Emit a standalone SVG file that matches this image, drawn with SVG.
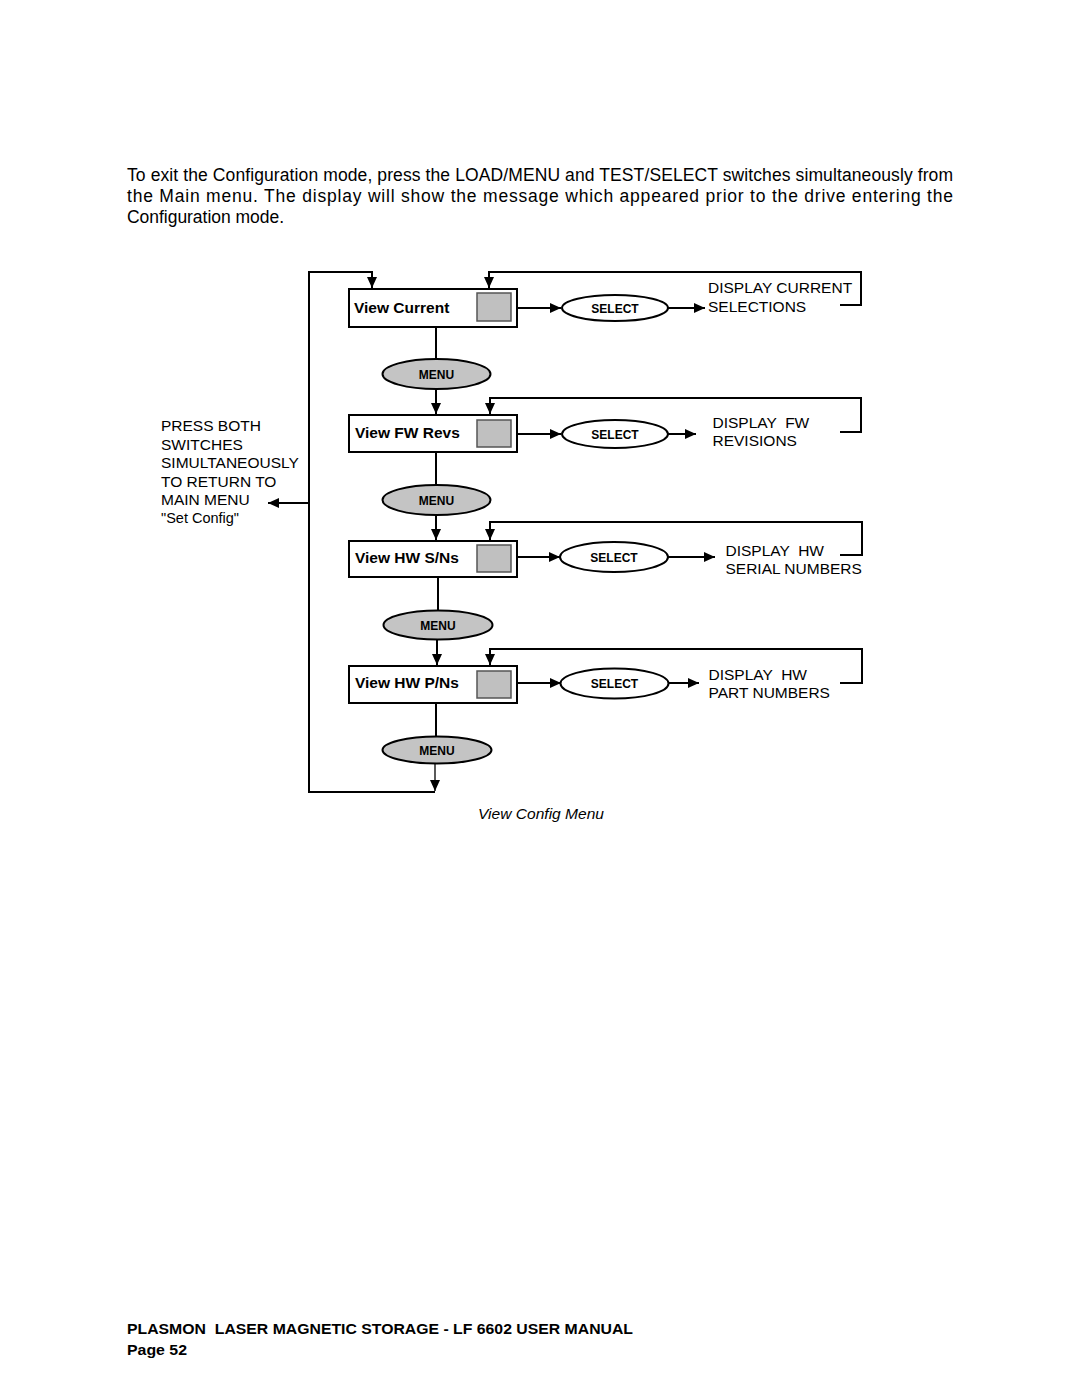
<svg xmlns="http://www.w3.org/2000/svg" width="1080" height="1397" viewBox="0 0 1080 1397">
<style>
text{font-family:"Liberation Sans",Arial,sans-serif;fill:#000}
.para{font-size:17.5px}
.lbl{font-size:15.5px}
.bx{fill:#fff;stroke:#000;stroke-width:2}
.sq{fill:#c0c0c0;stroke:#555;stroke-width:1.5}
.menu{fill:#c4c4c4;stroke:#000;stroke-width:2}
.sel{fill:#fff;stroke:#000;stroke-width:2}
.bt{font-size:15.5px;font-weight:bold}
.et{font-size:12px;font-weight:bold;text-anchor:middle}
.ln{fill:none;stroke:#000;stroke-width:2}
.ft{font-size:14.5px;font-weight:bold}
</style>
<defs>
<marker id="ah" markerUnits="userSpaceOnUse" markerWidth="12" markerHeight="10" refX="11" refY="5" orient="auto">
<path d="M0,0 L11,5 L0,10 z" fill="#000"/>
</marker>
</defs>
<rect width="1080" height="1397" fill="#fff"/>
<text class="para" x="127" y="181" textLength="826" lengthAdjust="spacing">To exit the Configuration mode, press the LOAD/MENU and TEST/SELECT switches simultaneously from</text>
<text class="para" x="127" y="202" textLength="826" lengthAdjust="spacing">the Main menu. The display will show the message which appeared prior to the drive entering the</text>
<text class="para" x="127" y="223" textLength="157" lengthAdjust="spacing">Configuration mode.</text>

<g id="connectors">
<polyline class="ln" points="435,792 309,792 309,272 372,272 372,288" marker-end="url(#ah)"/>
<line class="ln" x1="309" y1="503" x2="268" y2="503" marker-end="url(#ah)"/>
<polyline class="ln" points="840,305 861,305 861,272 489,272 489,288" marker-end="url(#ah)"/>
<polyline class="ln" points="840,432 861,432 861,398 490,398 490,414" marker-end="url(#ah)"/>
<polyline class="ln" points="840,555 862,555 862,522 490,522 490,540" marker-end="url(#ah)"/>
<polyline class="ln" points="840,683 862,683 862,649 490,649 490,665" marker-end="url(#ah)"/>
<line class="ln" x1="436" y1="327" x2="436" y2="359"/>
<line class="ln" x1="436" y1="389" x2="436" y2="414" marker-end="url(#ah)"/>
<line class="ln" x1="436" y1="452" x2="436" y2="485"/>
<line class="ln" x1="436" y1="515" x2="436" y2="540" marker-end="url(#ah)"/>
<line class="ln" x1="438" y1="577" x2="438" y2="610"/>
<line class="ln" x1="437" y1="639" x2="437" y2="665" marker-end="url(#ah)"/>
<line class="ln" x1="436" y1="703" x2="436" y2="737"/>
<line x1="435" y1="763" x2="435" y2="791" stroke="#000" stroke-width="1.3" marker-end="url(#ah)"/>
<line class="ln" x1="517" y1="308" x2="561" y2="308" marker-end="url(#ah)"/>
<line class="ln" x1="668" y1="308" x2="705" y2="308" marker-end="url(#ah)"/>
<line class="ln" x1="517" y1="434" x2="561" y2="434" marker-end="url(#ah)"/>
<line class="ln" x1="668" y1="434" x2="696" y2="434" marker-end="url(#ah)"/>
<line class="ln" x1="517" y1="557" x2="560" y2="557" marker-end="url(#ah)"/>
<line class="ln" x1="668" y1="557" x2="715" y2="557" marker-end="url(#ah)"/>
<line class="ln" x1="517" y1="683" x2="561" y2="683" marker-end="url(#ah)"/>
<line class="ln" x1="668" y1="683" x2="699" y2="683" marker-end="url(#ah)"/>
</g>

<g id="node-view-current">
<rect class="bx" x="349" y="289" width="168" height="38"/>
<rect class="sq" x="477" y="293" width="34" height="28"/>
<text class="bt" x="354" y="313">View Current</text>
</g>
<g id="node-menu-1">
<ellipse class="menu" cx="436.5" cy="374" rx="54" ry="15"/>
<text class="et" x="436.5" y="378.5">MENU</text>
</g>
<g id="node-select-1">
<ellipse class="sel" cx="615" cy="308" rx="53" ry="13"/>
<text class="et" x="615" y="312.5">SELECT</text>
</g>
<g id="node-display-current">
<text class="lbl" x="708" y="293">DISPLAY CURRENT</text>
<text class="lbl" x="708" y="312">SELECTIONS</text>
</g>

<g id="node-view-fw-revs">
<rect class="bx" x="349" y="415" width="168" height="37"/>
<rect class="sq" x="477" y="420" width="34" height="27"/>
<text class="bt" x="355" y="438">View FW Revs</text>
</g>
<g id="node-menu-2">
<ellipse class="menu" cx="436.5" cy="500" rx="54" ry="15"/>
<text class="et" x="436.5" y="504.5">MENU</text>
</g>
<g id="node-select-2">
<ellipse class="sel" cx="615" cy="434" rx="53" ry="14"/>
<text class="et" x="615" y="438.5">SELECT</text>
</g>
<g id="node-display-fw">
<text class="lbl" x="712.5" y="428" xml:space="preserve">DISPLAY  FW</text>
<text class="lbl" x="712.5" y="446">REVISIONS</text>
</g>

<g id="node-view-hw-sns">
<rect class="bx" x="349" y="541" width="168" height="36"/>
<rect class="sq" x="477" y="545" width="34" height="27"/>
<text class="bt" x="355" y="563">View HW S/Ns</text>
</g>
<g id="node-menu-3">
<ellipse class="menu" cx="438" cy="625" rx="54.5" ry="14.5"/>
<text class="et" x="438" y="629.5">MENU</text>
</g>
<g id="node-select-3">
<ellipse class="sel" cx="614" cy="557" rx="54" ry="15"/>
<text class="et" x="614" y="561.5">SELECT</text>
</g>
<g id="node-display-hw-serial">
<text class="lbl" x="725.5" y="556" xml:space="preserve">DISPLAY  HW</text>
<text class="lbl" x="725.5" y="574">SERIAL NUMBERS</text>
</g>

<g id="node-view-hw-pns">
<rect class="bx" x="349" y="666" width="168" height="37"/>
<rect class="sq" x="477" y="671" width="34" height="27"/>
<text class="bt" x="355" y="688">View HW P/Ns</text>
</g>
<g id="node-menu-4">
<ellipse class="menu" cx="437" cy="750" rx="54.5" ry="13.5"/>
<text class="et" x="437" y="754.5">MENU</text>
</g>
<g id="node-select-4">
<ellipse class="sel" cx="614.5" cy="683.5" rx="54" ry="15"/>
<text class="et" x="614.5" y="688">SELECT</text>
</g>
<g id="node-display-hw-part">
<text class="lbl" x="708.5" y="680" xml:space="preserve">DISPLAY  HW</text>
<text class="lbl" x="708.5" y="698">PART NUMBERS</text>
</g>

<g id="node-press-both">
<text class="lbl" x="161" y="431">PRESS BOTH</text>
<text class="lbl" x="161" y="449.5">SWITCHES</text>
<text class="lbl" x="161" y="468">SIMULTANEOUSLY</text>
<text class="lbl" x="161" y="486.5">TO RETURN TO</text>
<text class="lbl" x="161" y="505">MAIN MENU</text>
<text x="161" y="523" font-size="14.5">"Set Config"</text>
</g>

<text x="478" y="818.5" font-size="15" font-style="italic" textLength="126" lengthAdjust="spacingAndGlyphs">View Config Menu</text>

<text class="ft" x="127" y="1333.5" textLength="506" lengthAdjust="spacingAndGlyphs" xml:space="preserve">PLASMON  LASER MAGNETIC STORAGE - LF 6602 USER MANUAL</text>
<text class="ft" x="127" y="1354.5" textLength="60" lengthAdjust="spacingAndGlyphs">Page 52</text>
</svg>
